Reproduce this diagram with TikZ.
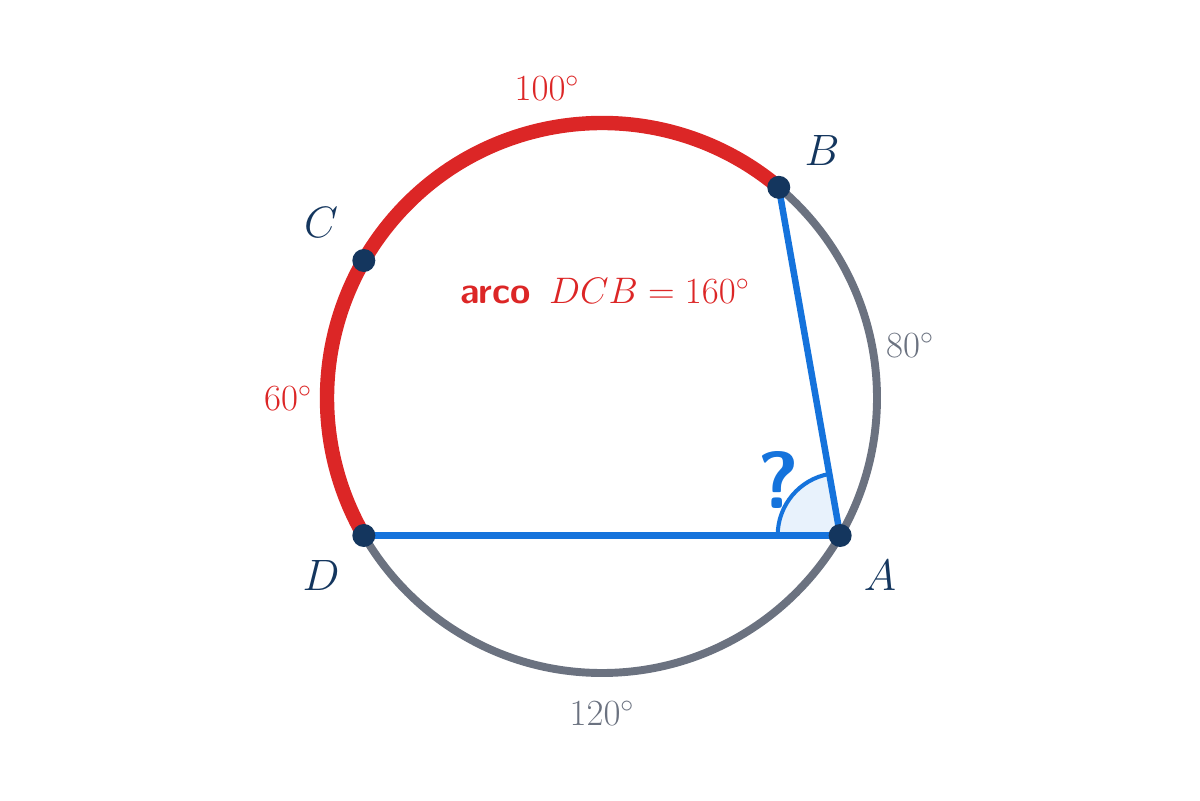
\RequirePackage{fix-cm}
\documentclass[tikz,border=0pt]{standalone}
\usepackage{fontspec}
\definecolor{arcred}{RGB}{220,38,38}
\definecolor{arcgray}{RGB}{107,114,128}
\definecolor{lineblue}{RGB}{21,115,220}
\definecolor{ptnavy}{RGB}{20,54,94}
\definecolor{fillblue}{RGB}{232,242,252}
\tikzset{
  pt/.style={circle,fill=ptnavy,inner sep=0pt,minimum size=0.46cm},
  ptlabel/.style={text=ptnavy,font=\fontsize{25}{30}\selectfont},
  deglabel/.style={font=\fontsize{21}{25}\selectfont},
  seg/.style={draw=lineblue,line width=3.7pt,line cap=round}
}
\begin{document}
\begin{tikzpicture}
\useasboundingbox (-12.04,-8.04) rectangle (11.96,7.96);
\coordinate (O) at (0,0);
\coordinate (A) at (-30:5.50);
\coordinate (B) at (50:5.50);
\coordinate (C) at (150:5.50);
\coordinate (D) at (210:5.50);
% circle
\draw[arcgray,line width=4.5pt] (O) circle[radius=5.50cm];
\draw[arcred,line width=8.2pt] (B) arc[start angle=50,end angle=210,radius=5.50cm];
% sector
\filldraw[fill=fillblue,draw=lineblue,line width=2.3pt] (A) -- ++(100:1.25cm) arc[start angle=100,end angle=180,radius=1.25cm] -- cycle;
% chords
\draw[seg] (D) -- (A);
\draw[seg] (A) -- (B);
% points
\node[pt] (pA) at (A) {};
\node[pt] (pB) at (B) {};
\node[pt] (pC) at (C) {};
\node[pt] (pD) at (D) {};
% labels
\node[ptlabel] (lA) at (5.56,-3.54) {$A$};
\node[ptlabel] (lB) at (4.40,4.96) {$B$};
\node[ptlabel] (lC) at (-5.62,3.52) {$C$};
\node[ptlabel] (lD) at (-5.62,-3.54) {$D$};
\node[deglabel,text=arcred] (l100) at (-1.10,6.20) {$100^\circ$};
\node[deglabel,text=arcred] (l60) at (-6.28,0) {$60^\circ$};
\node[deglabel,text=arcgray] (l80) at (6.16,1.06) {$80^\circ$};
\node[deglabel,text=arcgray] (l120) at (0,-6.30) {$120^\circ$};
\node[deglabel,text=arcred] (larc) at (0.06,2.14) {{\sffamily\bfseries arco}\hspace{0.5em}$DCB=160^\circ$};
\node[text=lineblue,font=\fontsize{46}{52}\selectfont\sffamily\bfseries] (q) at (3.52,-1.64) {?};
\end{tikzpicture}
\end{document}
